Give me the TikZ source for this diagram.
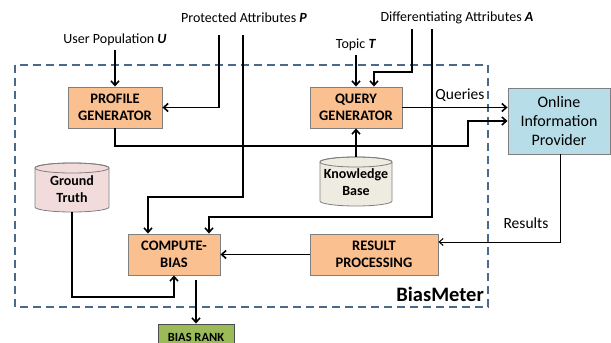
\documentclass[tikz,border=0pt]{standalone}
\usepackage{fontspec}
\setmainfont{Carlito}
\usetikzlibrary{arrows.meta,calc}
\definecolor{boxorange}{HTML}{FAC090}
\definecolor{boxblue}{HTML}{B7DEE8}
\definecolor{boxgreen}{HTML}{9BBB59}
\definecolor{gtpink}{HTML}{F2DCDB}
\definecolor{kbbeige}{HTML}{EEECE1}
\definecolor{dashblue}{HTML}{4A6A8C}
\definecolor{bordergray}{HTML}{7F7F7F}
\tikzset{
  procbox/.style={draw=bordergray, line width=0.9pt, fill=boxorange, align=center, inner sep=0pt,
    font=\fontsize{14.5}{17}\selectfont\bfseries},
  plainlabel/.style={font=\fontsize{14}{16}\selectfont, inner sep=0pt},
  cyltext/.style={align=center, inner sep=0pt, font=\fontsize{14}{17}\selectfont\bfseries},
  conn/.style={line width=1.6pt, -{Straight Barb[length=4.5pt,width=8pt]}},
  plainconn/.style={line width=1.6pt},
  thinconn/.style={line width=1pt, -{Straight Barb[length=4pt,width=7pt]}},
}
\begin{document}
\begin{tikzpicture}[x=1pt,y=-1pt]
\useasboundingbox (0,0) rectangle (611,343);
\clip (0,0) rectangle (611,343);
% dashed BiasMeter frame
\draw[dashblue, line width=1.5pt, dash pattern=on 8pt off 5pt] (15,65) rectangle (488,307);
\node[anchor=east, inner sep=0pt, font=\fontsize{20.5}{22}\selectfont\bfseries] (bm) at (484,294) {BiasMeter};

% input labels
\node[plainlabel] (U) at (115,40) {User Population \textbf{\textit{U}}};
\node[plainlabel] (P) at (244,18) {Protected Attributes \textbf{\textit{P}}};
\node[plainlabel] (A) at (457,18) {Differentiating Attributes \textbf{\textit{A}}};
\node[plainlabel] (T) at (356,45) {Topic \textbf{\textit{T}}};
\coordinate (p1) at (219,35);
\coordinate (p2) at (243,35);
\coordinate (a1) at (412,29);
\coordinate (a2) at (432,29);

% boxes
\node[procbox, minimum width=94pt, minimum height=41pt] (pg) at (115,107.5) {PROFILE\\GENERATOR};
\node[procbox, minimum width=92pt, minimum height=41pt] (qg) at (356,107.5) {QUERY\\GENERATOR};
\node[procbox, minimum width=92pt, minimum height=41pt] (cb) at (174,254.5) {COMPUTE-\\BIAS};
\node[procbox, minimum width=128pt, minimum height=41pt] (rp) at (374,254.5) {RESULT\\PROCESSING};
\node[draw=bordergray, line width=0.9pt, fill=boxblue, align=center, inner sep=0pt,
  minimum width=102pt, minimum height=66pt, font=\fontsize{16}{19}\selectfont] (oip) at (559,121) {Online\\Information\\Provider};
\node[draw=black!70, line width=0.9pt, fill=boxgreen, inner sep=0pt, minimum width=76pt, minimum height=26pt,
  font=\fontsize{12.5}{14}\selectfont\bfseries] (br) at (196,337) {BIAS RANK};

% cylinders
\filldraw[fill=gtpink, draw=bordergray, line width=0.8pt]
  (35,168) -- (35,207) arc[start angle=180, end angle=0, x radius=37, y radius=5]
  -- (109,168) arc[start angle=0, end angle=-180, x radius=37, y radius=5] -- cycle;
\draw[bordergray, line width=0.8pt] (72,168) ellipse[x radius=37, y radius=5];
\node[cyltext, minimum width=74pt, minimum height=54pt] (gt) at (72,189) {Ground\\Truth};

\filldraw[fill=kbbeige, draw=bordergray, line width=0.8pt]
  (320,162) -- (320,201) arc[start angle=180, end angle=0, x radius=36, y radius=5]
  -- (392,162) arc[start angle=0, end angle=-180, x radius=36, y radius=5] -- cycle;
\draw[bordergray, line width=0.8pt] (356,162) ellipse[x radius=36, y radius=5];
\node[cyltext, minimum width=72pt, minimum height=54pt] (kb) at (356,182) {Knowledge\\Base};

% labels on connectors
\node[font=\fontsize{15.5}{17}\selectfont, inner sep=0pt] (q) at (460,95) {Queries};
\node[font=\fontsize{15.5}{17}\selectfont, inner sep=0pt] (r) at (526,223) {Results};

% helper coordinates
\coordinate (j1) at (243,197);
\coordinate (j2) at (412,72);
\coordinate (j3) at (432,217);
\coordinate (j4) at (468,146);
\coordinate (j5) at (468,121);
\coordinate (j6) at (560,242);
\coordinate (j7) at (72,297);
\coordinate (cbl) at (148,197);
\coordinate (cbr) at (209,217);
\coordinate (qgl) at (374,72);

% connectors
\draw[conn] ($(U.south)+(0,4)$) -- (pg.north);
\draw[conn] (p1) |- (pg.east);
\draw[conn] (p2) -- (j1) -- (cbl) -- (cbl |- cb.north);
\draw[conn] (a1) -- (j2) -- (qgl) -- (qgl |- qg.north);
\draw[conn] ($(T.south)+(0,4)$) -- (qg.north);
\draw[conn] (a2) -- (j3) -- (cbr) -- (cbr |- cb.north);
\draw[conn] (pg.south) |- (j4) -- (j5) -- (oip.west |- j5);
\draw[conn] (qg.east) -- (oip.west |- qg.east);
\draw[conn] ($(kb.north)+(0,2)$) -- (qg.south);
\draw[thinconn] (oip.south -| j6) -- (j6) -- (rp.east |- j6);
\draw[conn] (rp.west) -- (cb.east);
\draw[conn] ($(gt.north)+(0,50)$) -- (j7) -| (cb.south);
\draw[conn, shorten <=5pt] ([xshift=22pt]cb.south) -- (br.north -| 196,0);
\end{tikzpicture}
\end{document}
